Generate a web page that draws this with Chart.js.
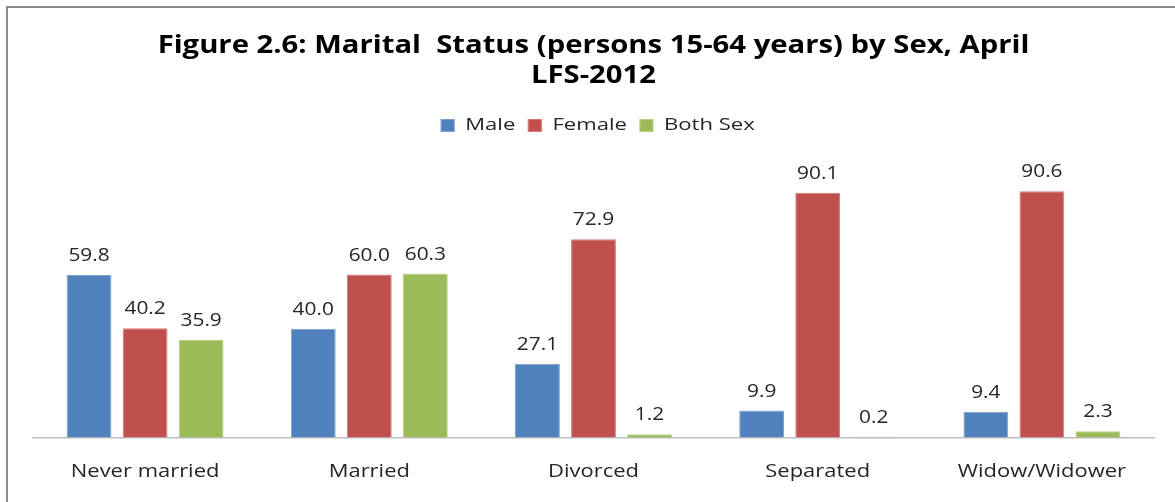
<!DOCTYPE html>
<html>
<head>
<meta charset="utf-8">
<script src="https://cdn.jsdelivr.net/npm/chart.js@4"></script>
<style>
  html, body { margin: 0; padding: 0; background: #fff; }
  #wrap { position: relative; width: 1175px; height: 502px; overflow: hidden; }
  #frame { position: absolute; left: 6px; top: 6px; width: 1300px; height: 600px;
           border-left: 2px solid #8a8a8a; border-top: 2px solid #8a8a8a; pointer-events: none; }
  canvas { position: absolute; left: 0; top: 0; }
</style>
</head>
<body>
<div id="wrap">
  <canvas id="c" width="1175" height="502"></canvas>
  <div id="frame"></div>
</div>
<script>
const categories = ["Never married", "Married", "Divorced", "Separated", "Widow/Widower"];
const maleValues = [59.8, 40.0, 27.1, 9.9, 9.4];
const femaleValues = [40.2, 60.0, 72.9, 90.1, 90.6];
const bothSexValues = [35.9, 60.3, 1.2, 0.2, 2.3];
const seriesNames = ["Male", "Female", "Both Sex"];
const titleLines = ["Figure 2.6: Marital  Status (persons 15-64 years) by Sex, April", "LFS-2012"];

const FONT = "'Open Sans', 'DejaVu Sans', sans-serif";
const TITLE_STRETCH = 1.17;
const LEGEND_STRETCH = 1.3;
const LEGEND_CENTER = 598;
const LABEL_STRETCH = 1.16;
const TICK_STRETCH = 1.22;

function stretchDraw(ctx, fromX, toX, s, fn) {
  ctx.save();
  ctx.translate(toX, 0);
  ctx.scale(s, 1);
  ctx.translate(-fromX, 0);
  fn();
  ctx.restore();
}

const textStretch = {
  id: 'textStretch',
  beforeDraw(chart) {
    const ctx = chart.ctx;
    const t = chart.titleBlock;
    if (t && !t._stretched) {
      const orig = t.draw.bind(t);
      t.draw = function (area) {
        const cx = (t.left + t.right) / 2;
        stretchDraw(ctx, cx, cx, TITLE_STRETCH, () => orig(area));
      };
      t._stretched = true;
    }
    const l = chart.legend;
    if (l && !l._stretched) {
      const orig = l.draw.bind(l);
      l.draw = function (area) {
        const cx = (l.left + l.right) / 2;
        stretchDraw(ctx, cx, LEGEND_CENTER, LEGEND_STRETCH, () => orig(area));
      };
      l._stretched = true;
    }
    const x = chart.scales.x;
    if (x && !x._stretched) {
      const orig = x.drawLabels.bind(x);
      x.drawLabels = function (area) {
        const origFill = ctx.fillText;
        ctx.fillText = function (text, px, py, maxW) {
          ctx.save();
          ctx.translate(px, 0);
          ctx.scale(TICK_STRETCH, 1);
          if (maxW !== undefined) origFill.call(ctx, text, 0, py, maxW);
          else origFill.call(ctx, text, 0, py);
          ctx.restore();
        };
        try { orig(area); } finally { ctx.fillText = origFill; }
      };
      x._stretched = true;
    }
  }
};

const valueLabels = {
  id: 'valueLabels',
  afterDatasetsDraw(chart) {
    const ctx = chart.ctx;
    chart.data.datasets.forEach((ds, i) => {
      const meta = chart.getDatasetMeta(i);
      meta.data.forEach((el, j) => {
        stretchDraw(ctx, el.x, el.x, LABEL_STRETCH, () => {
          ctx.font = "18px " + FONT;
          ctx.fillStyle = '#262626';
          ctx.textAlign = 'center';
          ctx.textBaseline = 'middle';
          ctx.fillText(ds.data[j].toFixed(1), el.x, el.y - 19);
        });
      });
    });
  }
};

new Chart(document.getElementById('c'), {
  type: 'bar',
  data: {
    labels: categories,
    datasets: [
      { label: seriesNames[0], data: maleValues, backgroundColor: '#4F81BD', borderColor: '#7ba0d2', borderWidth: 1 },
      { label: seriesNames[1], data: femaleValues, backgroundColor: '#C0504D', borderColor: '#d67b78', borderWidth: 1 },
      { label: seriesNames[2], data: bothSexValues, backgroundColor: '#9BBB59', borderColor: '#b7d083', borderWidth: 1 }
    ]
  },
  options: {
    responsive: false,
    animation: false,
    devicePixelRatio: 1,
    layout: { padding: { left: 33, right: 21, top: 0, bottom: -5 } },
    datasets: { bar: { categoryPercentage: 0.75, barPercentage: 0.8 } },
    plugins: {
      title: {
        display: true,
        text: titleLines,
        color: '#000',
        font: { family: FONT, size: 25, weight: 'bold', lineHeight: 1.2 },
        padding: { top: 31, bottom: 16 }
      },
      legend: {
        display: true,
        position: 'top',
        labels: {
          color: '#262626',
          font: { family: FONT, size: 17 },
          boxWidth: 10,
          boxHeight: 12,
          padding: 10
        }
      },
      tooltip: { enabled: false }
    },
    scales: {
      x: {
        grid: { display: false, drawTicks: false },
        border: { display: true, color: '#bdbdbd', width: 1.5 },
        ticks: { color: '#262626', font: { family: FONT, size: 18 }, padding: 24, maxRotation: 0 }
      },
      y: {
        display: false,
        min: 0,
        max: 108
      }
    }
  },
  plugins: [textStretch, valueLabels]
});
</script>
</body>
</html>
